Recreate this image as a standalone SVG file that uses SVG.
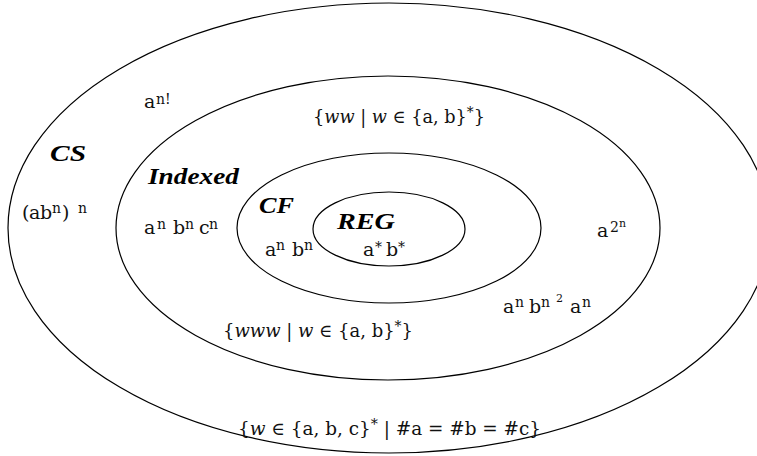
<svg xmlns="http://www.w3.org/2000/svg" width="757" height="456" viewBox="0 0 757 456">
<style>
  .ring { fill: none; stroke: #000; stroke-width: 1.2; }
  .t { font-family: "DejaVu Serif", "Liberation Serif", serif; font-size: 19px; fill: #111; }
  .s { font-size: 18px; }
  .sup { font-size: 14px; }
  .sup2 { font-size: 11px; }
  .i { font-style: italic; }
  .name { font-family: "Liberation Serif", "DejaVu Serif", serif; font-size: 23px; font-weight: bold; font-style: italic; fill: #000; }
</style>
<rect width="757" height="456" fill="#fff"/>

<g id="cs">
  <ellipse class="ring" cx="389" cy="228" rx="381" ry="225"/>
  <text class="name" x="50" y="161" textLength="36" lengthAdjust="spacingAndGlyphs">CS</text>
  <text class="t" x="144" y="108">a<tspan class="sup" x="156" y="104">n!</tspan></text>
  <text class="t" x="22" y="219">(<tspan x="29" y="219">a</tspan><tspan x="40" y="219">b</tspan><tspan class="sup" x="52" y="213">n</tspan><tspan x="62" y="219">)</tspan><tspan class="sup" x="78" y="213">n</tspan></text>
  <text class="t" x="597" y="237">a<tspan class="sup" x="610" y="232">2</tspan><tspan class="sup2" x="619" y="227">n</tspan></text>
  <text class="t" x="503" y="313">a<tspan class="sup" x="515" y="307">n</tspan><tspan x="529" y="313">b</tspan><tspan class="sup" x="541" y="307">n</tspan><tspan class="sup2" x="556" y="302">2</tspan><tspan x="570" y="313">a</tspan><tspan class="sup" x="582" y="307">n</tspan></text>
  <text class="t s" x="238" y="435" textLength="303" lengthAdjust="spacingAndGlyphs">{<tspan class="i">w</tspan> ∈ {a, b, c}<tspan class="sup" dy="-6">*</tspan><tspan dy="6"> | #a = #b = #c}</tspan></text>
</g>

<g id="indexed">
  <ellipse class="ring" cx="388" cy="228" rx="272" ry="152"/>
  <text class="name" x="148" y="184" textLength="91" lengthAdjust="spacingAndGlyphs">Indexed</text>
  <text class="t" x="144" y="234">a<tspan class="sup" x="157" y="229">n</tspan><tspan x="173" y="234">b</tspan><tspan class="sup" x="185" y="229">n</tspan><tspan x="199" y="234">c</tspan><tspan class="sup" x="209" y="229">n</tspan></text>
  <text class="t s" x="313" y="123" textLength="172" lengthAdjust="spacingAndGlyphs">{<tspan class="i">ww</tspan> | <tspan class="i">w</tspan> ∈ {a, b}<tspan class="sup" dy="-6">*</tspan><tspan dy="6">}</tspan></text>
  <text class="t s" x="223" y="337" textLength="190" lengthAdjust="spacingAndGlyphs">{<tspan class="i">www</tspan> | <tspan class="i">w</tspan> ∈ {a, b}<tspan class="sup" dy="-6">*</tspan><tspan dy="6">}</tspan></text>
</g>

<g id="cf">
  <ellipse class="ring" cx="389" cy="228" rx="152" ry="75"/>
  <text class="name" x="259" y="213" textLength="35" lengthAdjust="spacingAndGlyphs">CF</text>
  <text class="t" x="265" y="256">a<tspan class="sup" x="276" y="250">n</tspan><tspan x="292" y="256">b</tspan><tspan class="sup" x="304" y="250">n</tspan></text>
</g>

<g id="reg">
  <ellipse class="ring" cx="389" cy="229" rx="76" ry="37"/>
  <text class="name" x="337" y="229" textLength="58" lengthAdjust="spacingAndGlyphs">REG</text>
  <text class="t" x="363" y="256">a<tspan class="sup" x="375" y="252">*</tspan><tspan x="386" y="256">b</tspan><tspan class="sup" x="398" y="252">*</tspan></text>
</g>

<g id="connectors"></g>
</svg>
